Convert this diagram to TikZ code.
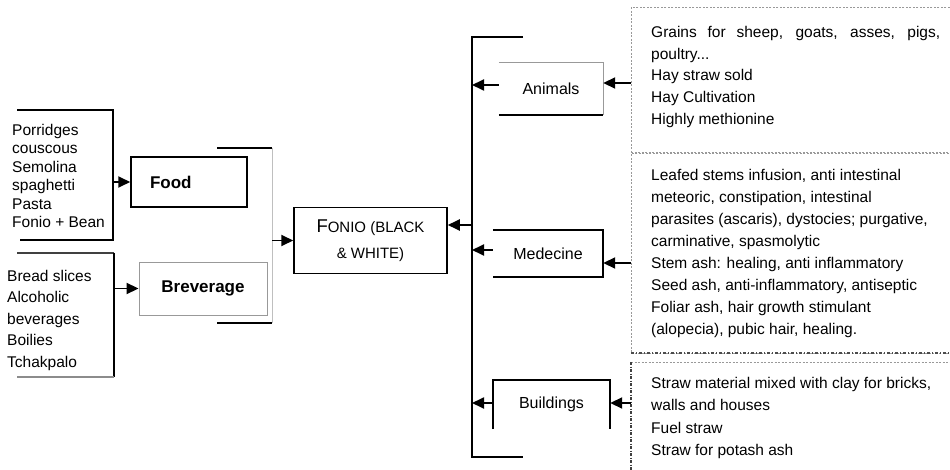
\documentclass[tikz,border=0pt]{standalone}
\usepackage{fontspec}
\setmainfont{Liberation Sans}
\usetikzlibrary{arrows.meta}
\begin{document}
\begin{tikzpicture}[x=1pt,y=-1pt,
  blk/.style={line width=1.8pt, black},
  gry/.style={line width=0.9pt, black!45},
  arr/.style={line width=1.8pt, -{Triangle[length=12pt,width=11pt]}},
  lst/.style={font=\fontsize{15.5}{18.4}\selectfont, align=left, inner sep=0pt, anchor=north west},
  dtxt/.style={font=\fontsize{15.5}{21.7}\selectfont, align=left, inner sep=0pt, anchor=north west},
  lbl/.style={font=\fontsize{16}{19}\selectfont, inner sep=0pt},
  dbox/.style={draw=black!40, dash pattern=on 2pt off 1.5pt, line width=0.7pt, anchor=north west, inner sep=0pt}
]
\useasboundingbox (0,0) rectangle (950,470);

% ---------- left lists ----------
\node[lst] (foodList) at (12,124) {Porridges\\couscous\\Semolina\\spaghetti\\Pasta\\Fonio + Bean};
\coordinate (fTL) at (17,110);
\coordinate (fTR) at (113,110);
\coordinate (fBR) at (113,240);
\coordinate (fBL) at (20,240);
\draw[blk] (fTL) -- (fTR) -- (fBR) -- (fBL);

\node[lst, font=\fontsize{15.5}{21.5}\selectfont] (bevList) at (7,270) {Bread slices\\Alcoholic\\beverages\\Boilies\\Tchakpalo};
\coordinate (bTL) at (17,253);
\coordinate (bTR) at (114,253);
\coordinate (bBR) at (114,377);
\coordinate (bBL) at (17,377);
\draw[line width=1.8pt, black!75] (bTL) -- (bTR);
\draw[blk] (bTR) -- (bBR);
\draw[gry, line width=1.2pt] (bBR) -- (bBL);

% ---------- Food / Breverage ----------
\node[draw, line width=1.5pt, minimum width=116, minimum height=50, text width=78, inner xsep=19, inner ysep=0pt, align=left, font=\bfseries\fontsize{17}{20}\selectfont] (food) at (189,182) {Food};
\node[draw=black!40, line width=0.9pt, minimum width=128, minimum height=53, inner sep=0pt, font=\bfseries\fontsize{17}{20}\selectfont] (brev) at (203,288.5) {Breverage};

\draw[arr] (fBR |- food.west) -- (food.west);
\draw[arr] (bTR |- brev.west) -- (brev.west);

\coordinate (oTL) at (217,148);
\coordinate (oTR) at (272,148);
\coordinate (oBR) at (272,323);
\coordinate (oBL) at (217,323);
\draw[blk] (oTL) -- (oTR);
\draw[blk] (oBL) -- (oBR);
\draw[line width=0.9pt, black!25] (oTR) -- (oBR);

% ---------- Fonio ----------
\node[draw, line width=1.5pt, minimum width=153, minimum height=66, inner sep=0pt, align=center, font=\fontsize{15}{26}\selectfont] (fonio) at (370.5,240.5) {{\fontsize{18.5}{26}\selectfont F}ONIO (BLACK\\\& WHITE)};
\draw[arr] (oTR |- fonio.west) -- (fonio.west);

% ---------- right trunk ----------
\coordinate (vTop) at (472,37);
\coordinate (vBot) at (472,457);
\coordinate (vTopR) at (523,37);
\coordinate (vBotR) at (523,457);
\draw[blk] (vTopR) -- (vTop) -- (vBot) -- (vBotR);
\coordinate (vFon) at (472,225);
\draw[arr] (vFon) -- (vFon -| fonio.east);

% ---------- dashed boxes ----------
\node[dbox, minimum width=330, minimum height=145] (animD) at (631,7) {};
\node[dbox, minimum width=330, minimum height=200] (medD) at (631,153) {};
\coordinate (sepL) at (631,353);
\coordinate (sepR) at (960,353);
\draw[line width=1.1pt, black!70, dash pattern=on 3pt off 2pt on 1pt off 2pt] (sepL) -- (sepR);
\coordinate (buTL) at (631,362);
\coordinate (buTR) at (960,362);
\coordinate (buBL) at (631,475);
\draw[line width=0.7pt, black!40, dash pattern=on 2pt off 1.5pt] (buTL) -- (buTR);
\draw[line width=1.1pt, black!75, dash pattern=on 3pt off 1.5pt on 1pt off 1.5pt] (buTL) -- (buBL);

\node[dtxt] (animT) at (651,26) {\makebox[289pt][s]{Grains for sheep, goats, asses, pigs,}\\poultry...\\Hay straw sold\\Hay Cultivation\\Highly methionine};
\node[dtxt, font=\fontsize{15.5}{22}\selectfont] (medT) at (651,169) {Leafed stems infusion, anti intestinal\\meteoric, constipation, intestinal\\parasites (ascaris), dystocies; purgative,\\carminative, spasmolytic\\Stem ash: healing, anti inflammatory\\Seed ash, anti-inflammatory, antiseptic\\Foliar ash, hair growth stimulant\\(alopecia), pubic hair, healing.};
\node[dtxt, font=\fontsize{15.5}{22.3}\selectfont] (buT) at (651,377) {Straw material mixed with clay for bricks,\\walls and houses\\Fuel straw\\Straw for potash ash};

% ---------- category boxes ----------
\node[lbl, minimum width=104, minimum height=52] (anim) at (551,89) {Animals};
\draw[line width=0.9pt, black!40] (anim.north west) -- (anim.north east) -- (anim.south east);
\draw[blk] (anim.south west) -- (anim.south east);
\draw[arr] ([yshift=4pt]anim.west) -- ([yshift=4pt]anim.west -| vTop);
\draw[arr] ([yshift=6pt]anim.east -| animD.west) -- ([yshift=6pt]anim.east);

\node[lbl, minimum width=110, minimum height=47] (med) at (548,253.5) {Medecine};
\draw[blk] (med.north west) -- (med.north east) -- (med.south east) -- (med.south west);
\draw[arr] ([yshift=3.5pt]med.west) -- ([yshift=3.5pt]med.west -| vTop);
\draw[arr] ([yshift=-9.5pt]med.east -| medD.west) -- ([yshift=-9.5pt]med.east);

\node[lbl, minimum width=117, minimum height=49] (build) at (551.5,404.5) {Buildings};
\draw[blk] (build.south west) -- (build.north west) -- (build.north east) -- (build.south east);
\draw[arr] ([yshift=1.5pt]build.west) -- ([yshift=1.5pt]build.west -| vTop);
\draw[arr] ([yshift=1.5pt]build.east -| buTL) -- ([yshift=1.5pt]build.east);
\end{tikzpicture}
\end{document}
